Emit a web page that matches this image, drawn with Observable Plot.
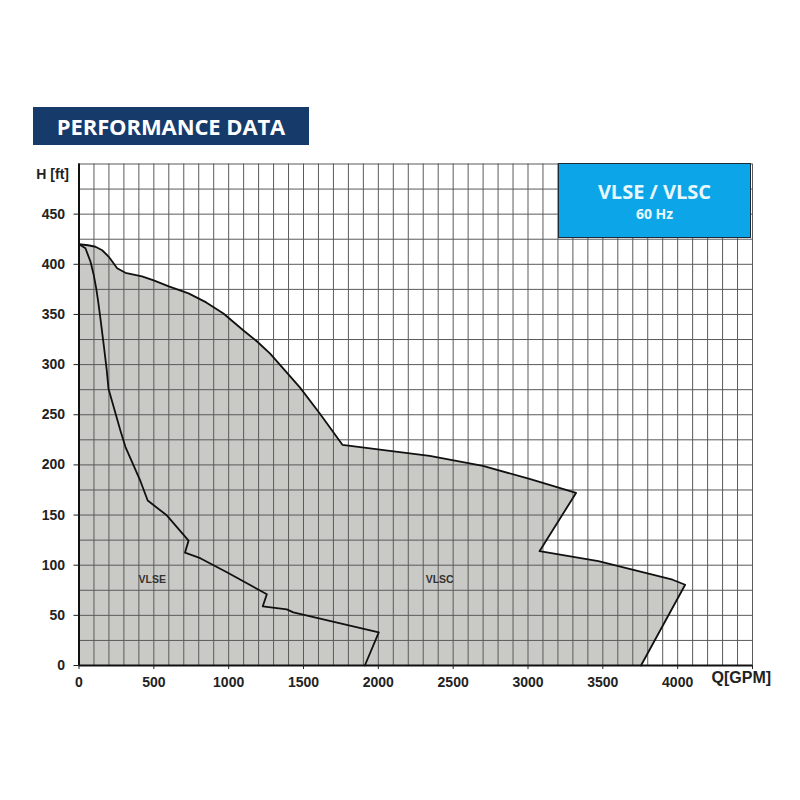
<!DOCTYPE html>
<html>
<head>
<meta charset="utf-8">
<script src="https://cdn.jsdelivr.net/npm/d3@7"></script>
<script src="https://cdn.jsdelivr.net/npm/@observablehq/plot@0.6"></script>
<style>
  html, body { margin: 0; padding: 0; background: #fff; }
  #wrap { position: relative; width: 800px; height: 800px; overflow: hidden; background: #fff; }
  #title { position: absolute; left: 33px; top: 107px; width: 276px; height: 38px; background: #163a69;
           color: #fff; font-family: "Open Sans", sans-serif; font-weight: 700; font-size: 22px;
           line-height: 38px; text-align: center; letter-spacing: -0.1px; }
  #chart { position: absolute; left: 0; top: 150px; }
  #badge { position: absolute; left: 558px; top: 163px; width: 191px; height: 73px; background: #0ca6e8;
           border: 1.5px solid #1b2b3a; color: #e8f8ff; font-family: "Open Sans", sans-serif; font-weight: 700;
           text-align: center; }
  #badge .a { font-size: 20px; margin-top: 16px; line-height: 24px; }
  #badge .b { font-size: 14px; line-height: 18px; margin-top: 1px; }
</style>
</head>
<body>
<div id="wrap">
  <div id="title">PERFORMANCE DATA</div>
  <div id="chart"></div>
  <div id="badge"><div class="a">VLSE / VLSC</div><div class="b">60 Hz</div></div>
</div>
<script>
// VLSC outer performance boundary (Q in GPM, H in ft)
const vlscQ = [0, 60, 110, 155, 199, 255, 310, 421, 499, 600, 732, 850, 965, 1099, 1190, 1277, 1477, 1610, 1760, 2077, 2343, 2699, 3010, 3321, 3077, 3470, 3966, 4050, 3755];
const vlscH = [420, 419, 417.5, 414, 407.5, 396, 391.5, 388, 384, 378, 371, 362, 351, 334, 323, 311, 277, 251, 220, 214, 209, 199, 186, 172, 114, 104, 85.5, 80.5, 0];
// VLSE outer performance boundary
const vlseQ = [0, 43, 77, 99, 115, 128, 143, 165, 185, 197, 277, 310, 410, 459, 588, 732, 708, 810, 988, 1255, 1228, 1388, 1432, 2003, 1910];
const vlseH = [420, 416, 402.5, 389, 376, 363, 346, 320, 295, 276, 234, 218, 184, 164.5, 149.5, 124.5, 112.5, 107, 93, 71, 59, 56, 53, 33, 0];
// Labels inside the regions
const regionNames = ["VLSE", "VLSC"];
const regionQ = [490, 2410];
const regionH = [86, 86];
// Axes
const xTicks = [0, 500, 1000, 1500, 2000, 2500, 3000, 3500, 4000, 4500];
const yTicks = [0, 50, 100, 150, 200, 250, 300, 350, 400, 450];
const xGrid = d3.range(0, 4501, 100);
const yGrid = d3.range(0, 501, 25);
const xDomain = [0, 4500];
const yDomain = [0, 500];

const vlsc = vlscQ.map((q, i) => ({q, h: vlscH[i]}));
const vlscPoly = vlsc.concat([{q: 0, h: 0}]);
const vlse = vlseQ.map((q, i) => ({q, h: vlseH[i]}));
const regions = regionNames.map((name, i) => ({name, q: regionQ[i], h: regionH[i]}));

const chart = Plot.plot({
  width: 800,
  height: 650,
  marginLeft: 78.5,
  marginRight: 48,
  marginTop: 13.5,
  marginBottom: 135,
  x: {domain: xDomain, label: null},
  y: {domain: yDomain, label: null},
  style: {fontFamily: "'Liberation Sans', Arial, sans-serif", fontSize: "14px", fontWeight: "bold", color: "#222", background: "#fff"},
  marks: [
    Plot.line(vlscPoly, {x: "q", y: "h", fill: "#c9c9c6", stroke: "none"}),
    Plot.ruleX(xGrid, {stroke: "#5a5a5a", strokeWidth: 1}),
    Plot.ruleY(yGrid, {stroke: "#5a5a5a", strokeWidth: 1}),
    Plot.line(vlsc, {x: "q", y: "h", stroke: "#111", strokeWidth: 1.8}),
    Plot.line(vlse, {x: "q", y: "h", stroke: "#111", strokeWidth: 1.8}),
    Plot.text(regions, {x: "q", y: "h", text: "name", fontSize: 10.5, fontWeight: "bold", fill: "#333"}),
    Plot.ruleX([0], {stroke: "#111", strokeWidth: 2}),
    Plot.ruleY([0], {stroke: "#111", strokeWidth: 2}),
    Plot.axisY({ticks: yTicks, tickSize: 5, tickPadding: 9, label: null, stroke: "#222"}),
    Plot.axisX({ticks: xTicks, tickSize: 4, tickPadding: 8, label: null, tickFormat: d => d === 4500 ? "" : String(d)}),
    Plot.text(["H [ft]"], {frameAnchor: "top-left", dx: -10, dy: 5, textAnchor: "end", fontSize: 14, fontWeight: "bold", fill: "#222"}),
    Plot.text(["Q[GPM]"], {frameAnchor: "bottom-right", dx: -41, dy: 17, textAnchor: "start", fontSize: 16, fontWeight: "bold", fill: "#222"})
  ]
});
document.getElementById("chart").appendChild(chart);
</script>
</body>
</html>
